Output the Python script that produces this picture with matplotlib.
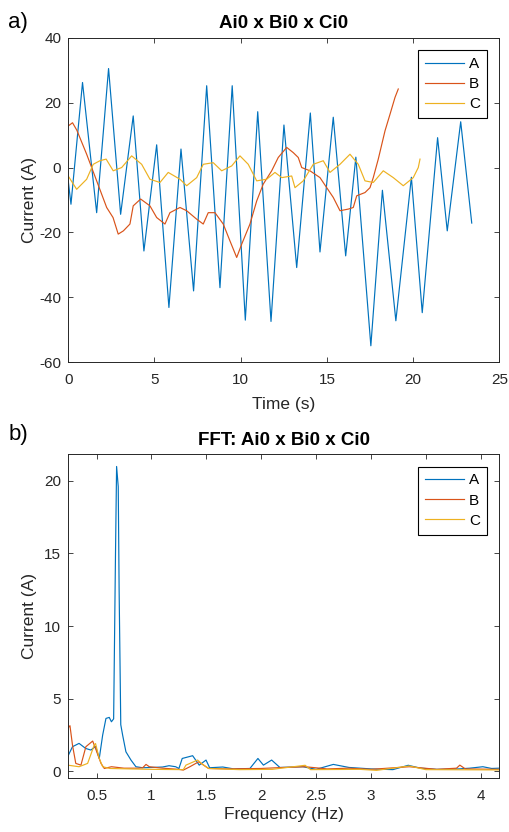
import matplotlib.pyplot as plt
import numpy as np

plt.rcParams['font.family'] = ['Liberation Sans', 'DejaVu Sans']
plt.rcParams['axes.unicode_minus'] = False

# --- a) time series ---
t_a = [0, 0.16, 0.83, 1.65, 2.34, 3.04, 3.77, 4.39, 5.13, 5.84, 6.54, 7.27, 8.03, 8.80,
       9.51, 10.27, 10.99, 11.76, 12.51, 13.25, 14.04, 14.60, 15.37, 16.09, 16.68, 17.55,
       18.22, 19.00, 19.90, 20.53, 21.42, 21.98, 22.76, 23.40]
cur_a = [-4, -11.3, 26.2, -13.9, 30.5, -14.4, 15.9, -25.7, 7.0, -43.1, 5.7, -38.0, 25.2, -37.0,
         25.2, -47.0, 17.2, -47.4, 13.1, -30.8, 16.8, -26.0, 15.5, -27.2, 3.2, -54.9,
         -7.0, -47.2, -3.0, -44.7, 9.2, -19.5, 14.1, -17.1]

t_b = [0, 0.25, 0.5, 1.07, 1.65, 2.23, 2.6, 2.9, 3.2, 3.58, 3.77, 4.2, 4.74, 5.13, 5.61,
       5.9, 6.48, 6.87, 7.45, 7.83, 8.12, 8.51, 8.99, 9.38, 9.77, 10.06, 10.54, 10.93,
       11.31, 11.8, 12.18, 12.67, 13.05, 13.34, 13.54, 14.02, 14.6, 14.99, 15.37, 15.76,
       16.24, 16.53, 16.73, 17.21, 17.5, 17.69, 17.98, 18.37, 18.66, 18.95, 19.14]
cur_b = [12.8, 13.8, 11.5, 4.1, -4.1, -12.3, -15.4, -20.5, -19.5, -17.4, -11.8, -9.7, -11.8,
         -15.4, -17.4, -13.9, -12.3, -13.3, -15.9, -17.4, -13.9, -13.9, -17.4, -22.6, -27.7,
         -23.6, -17.4, -10.3, -5.1, -1.0, 3.1, 6.2, 4.6, 3.1, 0.0, -1.0, -3.1, -6.2, -9.2,
         -13.3, -12.8, -12.3, -8.7, -7.7, -6.2, -3.1, 2.6, 11.3, 16.4, 21.6, 24.2]

t_c = [0, 0.49, 1.07, 1.45, 1.84, 2.2, 2.61, 3.1, 3.68, 4.26, 4.74, 5.32, 5.8, 6.48, 6.87,
       7.45, 7.83, 8.41, 8.9, 9.48, 9.96, 10.44, 10.93, 11.51, 11.99, 12.38, 12.96, 13.15,
       13.63, 14.21, 14.79, 15.18, 15.76, 16.34, 16.82, 17.21, 17.69, 18.27, 18.85, 19.43,
       20.01, 20.3, 20.4]
cur_c = [-2.6, -6.7, -3.6, 1.0, 2.1, 2.6, -1.0, 0.0, 3.6, 1.0, -3.6, -4.6, -1.5, -3.6, -5.6,
         -3.1, 1.0, 1.5, -1.0, 0.5, 3.6, 1.0, -4.1, -3.6, -1.5, -3.1, -2.6, -6.2,
         -4.1, 1.0, 2.1, -1.5, 1.0, 4.1, 1.0, -4.1, -4.6, -1.0, -3.1, -5.6,
         -3.1, 0.0, 2.6]

# --- b) FFT ---
f_a = [0.236, 0.28, 0.34, 0.40, 0.448, 0.49, 0.524, 0.555, 0.585, 0.615, 0.635, 0.655,
       0.672, 0.682, 0.697, 0.705, 0.72, 0.737, 0.767, 0.813, 0.858, 0.92, 1.0, 1.1, 1.16,
       1.22, 1.25, 1.28, 1.375, 1.435, 1.497, 1.53, 1.65, 1.75, 1.897, 1.97, 2.02, 2.095,
       2.17, 2.38, 2.5, 2.657, 2.8, 3.0, 3.2, 3.34, 3.45, 3.6, 3.8, 3.9, 4.02, 4.1, 4.17]
amp_a = [0.99, 1.68, 1.91, 1.56, 1.45, 1.7, 0.87, 2.48, 3.63, 3.7, 3.4, 3.6,
         15.0, 21.0, 19.6, 12.5, 3.2, 2.48, 1.33, 0.76, 0.3, 0.23, 0.25, 0.28, 0.37,
         0.3, 0.18, 0.87, 1.06, 0.41, 0.76, 0.23, 0.28, 0.15, 0.18, 0.87, 0.41, 0.76,
         0.25, 0.3, 0.12, 0.46, 0.25, 0.15, 0.1, 0.4, 0.2, 0.12, 0.15, 0.2, 0.3, 0.18, 0.2]

f_b = [0.236, 0.257, 0.28, 0.31, 0.357, 0.402, 0.464, 0.49, 0.54, 0.57, 0.635, 0.75, 0.88,
       0.92, 0.95, 0.98, 1.1, 1.25, 1.29, 1.35, 1.43, 1.52, 1.7, 2.0, 2.2, 2.4, 2.6, 2.8,
       3.0, 3.35, 3.6, 3.78, 3.81, 3.86, 4.17]
amp_b = [2.94, 3.13, 1.79, 0.53, 0.41, 1.68, 2.07, 1.56, 0.53, 0.18, 0.3, 0.2, 0.2,
         0.23, 0.46, 0.3, 0.2, 0.12, 0.07, 0.3, 0.64, 0.18, 0.15, 0.18, 0.25, 0.3, 0.15, 0.2,
         0.12, 0.3, 0.12, 0.2, 0.41, 0.15, 0.12]

f_c = [0.236, 0.34, 0.418, 0.478, 0.49, 0.524, 0.555, 0.62, 0.8, 1.0, 1.29, 1.314, 1.42,
       1.46, 1.52, 1.8, 2.1, 2.4, 2.45, 2.9, 3.05, 3.35, 3.5, 4.17]
amp_c = [0.41, 0.3, 0.53, 1.79, 1.9, 0.87, 0.3, 0.18, 0.15, 0.12, 0.1, 0.41, 0.76,
         0.5, 0.18, 0.1, 0.12, 0.4, 0.1, 0.12, 0.05, 0.35, 0.1, 0.08]

colors = ['#0072BD', '#D95319', '#EDB120']
dark = '#262626'

fig = plt.figure(figsize=(5.09, 8.32), dpi=100)
ax1 = fig.add_axes([0.134, 0.5645, 0.847, 0.3902])
ax2 = fig.add_axes([0.134, 0.0645, 0.847, 0.3895])

ax1.plot(t_a, cur_a, color=colors[0], lw=0.85, label='A')
ax1.plot(t_b, cur_b, color=colors[1], lw=0.85, label='B')
ax1.plot(t_c, cur_c, color=colors[2], lw=0.85, label='C')
ax1.set_xlim(0, 25)
ax1.set_ylim(-60, 40)
ax1.set_xticks(np.arange(0, 26, 5))
ax1.set_yticks(np.arange(-60, 41, 20))
ax1.set_xlabel('Time (s)', fontsize=12.5, color=dark, va='center')
ax1.set_ylabel('Current (A)', fontsize=12.5, color=dark, va='center')
ax1.xaxis.set_label_coords(0.5, -0.131)
ax1.yaxis.set_label_coords(-0.09, 0.5)
ax1.set_title('Ai0 x Bi0 x Ci0', fontsize=13.5, fontweight='bold', pad=7)

ax2.plot(f_a, amp_a, color=colors[0], lw=0.85, label='A')
ax2.plot(f_b, amp_b, color=colors[1], lw=0.85, label='B')
ax2.plot(f_c, amp_c, color=colors[2], lw=0.85, label='C')
ax2.set_xlim(0.241, 4.17)
ax2.set_ylim(-0.5, 21.84)
ax2.set_xticks(np.arange(0.5, 4.01, 0.5))
ax2.set_xticklabels(['0.5', '1', '1.5', '2', '2.5', '3', '3.5', '4'])
ax2.set_yticks([0, 5, 10, 15, 20])
ax2.set_xlabel('Frequency (Hz)', fontsize=12.5, color=dark, va='center')
ax2.set_ylabel('Current (A)', fontsize=12.5, color=dark, va='center')
ax2.xaxis.set_label_coords(0.5, -0.113)
ax2.yaxis.set_label_coords(-0.09, 0.5)
ax2.set_title('FFT: Ai0 x Bi0 x Ci0', fontsize=13.5, fontweight='bold', pad=7)

for ax in (ax1, ax2):
    ax.tick_params(direction='in', top=True, right=True, length=3.5, width=0.6,
                   labelsize=11, colors=dark)
    ax.tick_params(axis='x', pad=8)
    ax.tick_params(axis='y', pad=5)
    for s in ax.spines.values():
        s.set_color(dark)
        s.set_linewidth(0.7)
    leg = ax.legend(loc='upper right', bbox_to_anchor=(0.971, 0.962), borderaxespad=0,
                    fancybox=False, framealpha=1, edgecolor='black', fontsize=11,
                    handlelength=2.6, handletextpad=0.3, labelspacing=0.4,
                    borderpad=0.45)
    leg.get_frame().set_linewidth(0.8)

fig.text(0.016, 0.973, 'a)', fontsize=16, color='black', va='center')
fig.text(0.016, 0.478, 'b)', fontsize=16, color='black', va='center')

fig.savefig('out.png', dpi=100)
